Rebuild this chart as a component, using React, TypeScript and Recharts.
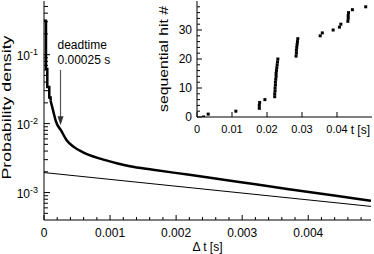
import { Label, Line, LineChart, ReferenceLine, Scatter, ScatterChart, XAxis, YAxis } from "recharts";

const FONT = '"Liberation Sans", Arial, Helvetica, sans-serif';

// first few histogram bins (drawn as steps)
const headTimes = [0, 0.00003, 0.00005, 0.00008, 0.0001];
const headDensity = [0.31, 0.062, 0.034, 0.024, 0.0215];

// rest of the measured distribution
const tailTimes = [
  0.0001, 0.00014, 0.00018, 0.00026, 0.00034, 0.00045, 0.0006, 0.00085, 0.0011, 0.0013, 0.00165,
  0.0022, 0.00267, 0.0032, 0.00368, 0.0042, 0.00468, 0.00495,
];
const tailDensity = [
  0.0215, 0.0152, 0.0108, 0.0079, 0.0058, 0.0046, 0.0038, 0.0031, 0.00266, 0.0024, 0.00214,
  0.00181, 0.00156, 0.00132, 0.00113, 0.00096, 0.00083, 0.00076,
];

// plain exponential for comparison
const expTimes = [0, 0.00495];
const expDensity = [0.00195, 0.00063];

const DEADTIME = 0.00025;
const ARROW_FROM = 0.06;
const ARROW_TO = 0.0095;

const xTicks = [
  0, 0.0002, 0.0004, 0.0006, 0.0008, 0.001, 0.0012, 0.0014, 0.0016, 0.0018, 0.002, 0.0022, 0.0024,
  0.0026, 0.0028, 0.003, 0.0032, 0.0034, 0.0036, 0.0038, 0.004, 0.0042, 0.0044, 0.0046, 0.0048,
];
const yTicks = [
  0.0005, 0.0006, 0.0007, 0.0008, 0.0009, 0.001, 0.002, 0.003, 0.004, 0.005, 0.006, 0.007, 0.008,
  0.009, 0.01, 0.02, 0.03, 0.04, 0.05, 0.06, 0.07, 0.08, 0.09, 0.1, 0.2, 0.3, 0.4, 0.5,
];

// inset: arrival time of each hit
const hitTimes = [
  0.0019, 0.0032, 0.0111, 0.0178, 0.0178, 0.0179, 0.0194, 0.0222, 0.0222, 0.0223, 0.0223, 0.0224,
  0.0224, 0.0225, 0.0226, 0.0226, 0.0227, 0.0228, 0.0229, 0.023, 0.0231, 0.0283, 0.0284, 0.0284,
  0.0285, 0.0286, 0.0287, 0.0288, 0.0352, 0.0358, 0.0389, 0.0407, 0.0411, 0.0431, 0.0432, 0.0432,
  0.0433, 0.0444, 0.0482,
];
const hitNumbers = [
  0, 1, 2, 3, 4, 5, 6, 7, 8, 9, 10, 11, 12, 13, 14, 15, 16, 17, 18, 19, 20, 21, 22, 23, 24, 25, 26,
  27, 28, 29, 30, 31, 32, 33, 34, 35, 36, 37, 38,
];
const insetXTicks = [0, 0.01, 0.02, 0.03, 0.04];
const insetYTicks = [0, 2, 4, 6, 8, 10, 12, 14, 16, 18, 20, 22, 24, 26, 28, 30, 32, 34, 36, 38];

const headData = headTimes.map((t, i) => ({ t, p: headDensity[i] }));
const tailData = tailTimes.map((t, i) => ({ t, p: tailDensity[i] }));
const expData = expTimes.map((t, i) => ({ t, p: expDensity[i] }));
const hitData = hitTimes.map((t, i) => ({ t, n: hitNumbers[i] }));

const isMultiple = (v: number, step: number) => Math.abs(v / step - Math.round(v / step)) < 1e-6;
const isDecade = (v: number) => Math.abs(Math.log10(v) - Math.round(Math.log10(v))) < 1e-6;

const MainXTick = ({ x, y, payload }: any) => {
  const v = payload.value;
  const major = isMultiple(v, 0.001);
  return (
    <g>
      <line x1={x} x2={x} y1={y} y2={y - (major ? 5 : 3)} stroke="#000" />
      {major && (
        <text x={x} y={y + 17} textAnchor="middle" fontSize={12} fontFamily={FONT} fill="#000">
          {v === 0 ? "0" : v.toFixed(3)}
        </text>
      )}
    </g>
  );
};

const MainYTick = ({ x, y, payload }: any) => {
  const v = payload.value;
  const major = isDecade(v);
  return (
    <g>
      <line x1={x} x2={x + (major ? 6 : 4)} y1={y} y2={y} stroke="#000" />
      {major && (
        <text x={x - 6} y={y + 5} textAnchor="end" fontSize={12} fontFamily={FONT} fill="#000">
          10<tspan dy={-5} fontSize={9}>{String(Math.round(Math.log10(v)))}</tspan>
        </text>
      )}
    </g>
  );
};

const InsetXTick = ({ x, y, payload }: any) => {
  const v = payload.value;
  return (
    <g>
      <line x1={x} x2={x} y1={y} y2={y - 5} stroke="#000" />
      <text x={x} y={y + 16} textAnchor="middle" fontSize={11} fontFamily={FONT} fill="#000">
        {v === 0 ? "0" : v.toFixed(2)}
      </text>
    </g>
  );
};

const InsetYTick = ({ x, y, payload }: any) => {
  const v = payload.value;
  const major = isMultiple(v, 10);
  return (
    <g>
      <line x1={x} x2={x + (major ? 5 : 3)} y1={y} y2={y} stroke="#000" />
      {major && (
        <text x={x - 5} y={y + 4} textAnchor="end" fontSize={12} fontFamily={FONT} fill="#000">
          {v}
        </text>
      )}
    </g>
  );
};

// rotated axis title, stretched to the length it has in the figure
const verticalTitle = (text: string, length: number, dx: number, dy: number) => ({ viewBox }: any) => {
  const cx = viewBox.x + viewBox.width / 2 + dx;
  const cy = viewBox.y + viewBox.height / 2 + dy;
  return (
    <text
      x={cx}
      y={cy}
      transform={`rotate(-90 ${cx} ${cy})`}
      textAnchor="middle"
      dominantBaseline="central"
      textLength={length}
      lengthAdjust="spacingAndGlyphs"
      fontSize={12.5}
      fontFamily={FONT}
      fill="#000"
    >
      {text}
    </text>
  );
};

const DeadtimeArrow = ({ x1, y1, x2, y2 }: any) => (
  <g>
    <text x={x1 - 3} y={y1 - 21} fontSize={12} fontFamily={FONT} fill="#000">
      deadtime
    </text>
    <text x={x1 - 3} y={y1 - 6} fontSize={12} fontFamily={FONT} fill="#000">
      0.00025 s
    </text>
    <line x1={x1} y1={y1} x2={x2} y2={y2 - 8} stroke="#555" strokeWidth={1.2} />
    <polygon points={`${x2 - 3},${y2 - 9} ${x2 + 3},${y2 - 9} ${x2},${y2}`} fill="#333" />
  </g>
);

const HitSquare = ({ cx, cy }: any) => <rect x={cx - 1.5} y={cy - 1.5} width={3} height={3} fill="#000" />;

export default function App() {
  return (
    <div style={{ position: "absolute", left: 0, top: 0, width: 374, height: 254, background: "#fff" }}>
      <LineChart width={374} height={254} margin={{ top: 1, right: 3, bottom: 0, left: 0 }}>
        <XAxis
          type="number"
          dataKey="t"
          domain={[0, 0.00495]}
          allowDataOverflow
          ticks={xTicks}
          interval={0}
          tick={<MainXTick />}
          tickLine={false}
          tickSize={0}
          tickMargin={0}
          height={34}
          axisLine={{ stroke: "#000" }}
          label={{ value: "Δ t [s]", position: "insideBottom", offset: 3, fontSize: 12, fontFamily: FONT, fill: "#000" }}
        />
        <XAxis xAxisId="top" orientation="top" type="number" domain={[0, 1]} height={0} tick={false} tickLine={false} axisLine={{ stroke: "#888", strokeWidth: 1.5 }} />
        <YAxis
          type="number"
          scale="log"
          domain={[0.0004, 0.6]}
          allowDataOverflow
          ticks={yTicks}
          interval={0}
          tick={<MainYTick />}
          tickLine={false}
          tickSize={0}
          tickMargin={0}
          width={44}
          axisLine={{ stroke: "#000" }}
        >
          <Label content={verticalTitle("Probability density", 144, -15, -3)} />
        </YAxis>
        <YAxis yAxisId="right" orientation="right" type="number" domain={[0, 1]} width={0} tick={false} tickLine={false} axisLine={{ stroke: "#777", strokeWidth: 1.5 }} />
        <Line data={expData} dataKey="p" type="linear" stroke="#000" strokeWidth={1} dot={false} isAnimationActive={false} />
        <Line data={headData} dataKey="p" type="stepAfter" stroke="#000" strokeWidth={2.5} dot={false} isAnimationActive={false} />
        <Line data={tailData} dataKey="p" type="monotone" stroke="#000" strokeWidth={2.5} dot={false} isAnimationActive={false} />
        <ReferenceLine
          segment={[
            { x: DEADTIME, y: ARROW_FROM },
            { x: DEADTIME, y: ARROW_TO },
          ]}
          shape={<DeadtimeArrow />}
        />
      </LineChart>

      <div style={{ position: "absolute", left: 140, top: 0 }}>
        <ScatterChart width={234} height={140} margin={{ top: 1, right: 2, bottom: 0, left: 20 }}>
          <XAxis
            type="number"
            dataKey="t"
            domain={[0, 0.05]}
            allowDataOverflow
            ticks={insetXTicks}
            interval={0}
            tick={<InsetXTick />}
            tickLine={false}
            tickSize={0}
            tickMargin={0}
            height={23}
            axisLine={{ stroke: "#000" }}
            label={{ value: "t [s]", position: "insideRight", offset: 2, dy: 1, fontSize: 12, fontFamily: FONT, fill: "#000" }}
          />
          <XAxis xAxisId="top" orientation="top" type="number" domain={[0, 1]} height={0} tick={false} tickLine={false} axisLine={{ stroke: "#777", strokeWidth: 1.5 }} />
          <YAxis
            type="number"
            dataKey="n"
            domain={[0, 40]}
            allowDataOverflow
            ticks={insetYTicks}
            interval={0}
            tick={<InsetYTick />}
            tickLine={false}
            tickSize={0}
            tickMargin={0}
            width={37}
            axisLine={{ stroke: "#000" }}
          >
            <Label content={verticalTitle("sequential hit #", 106, -14.5, 0)} />
          </YAxis>
          <YAxis yAxisId="right" orientation="right" type="number" domain={[0, 1]} width={0} tick={false} tickLine={false} axisLine={{ stroke: "#555", strokeWidth: 1.5 }} />
          <Scatter data={hitData} fill="#000" shape={<HitSquare />} isAnimationActive={false} />
        </ScatterChart>
      </div>
    </div>
  );
}
